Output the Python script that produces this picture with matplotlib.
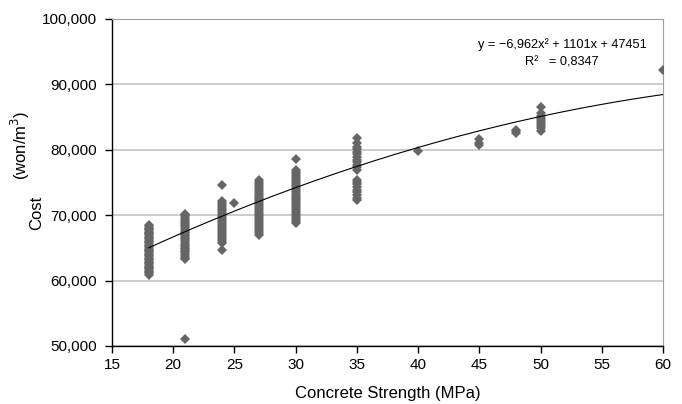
import numpy as np
import matplotlib
matplotlib.use("Agg")
import matplotlib.pyplot as plt

plt.rcParams['font.family'] = ['Liberation Sans', 'DejaVu Sans']

# cost values (won/m3), grouped by concrete strength
cost_18 = [60900, 61100, 61300, 61500, 61700, 61900, 62100, 62300, 62500, 62700,
           62900, 63100, 63300, 63500, 63700, 63900, 64100, 64300, 64500, 64700,
           64900, 65100, 65300, 65500, 65700, 65900, 66100, 66300, 66500, 66700,
           66900, 67100, 67300, 67500, 67700, 67900, 68100, 68300, 68500]
cost_21 = [51000, 63300, 63500, 63800, 64000, 64300, 64500, 64800, 65000, 65300,
           65500, 65800, 66000, 66300, 66500, 66800, 67000, 67300, 67500, 67800,
           68000, 68300, 68500, 68800, 69000, 69300, 69500, 69800, 70000, 70200]
cost_24 = [64700, 65800, 66100, 66400, 66700, 67000, 67300, 67600, 67900, 68200,
           68500, 68800, 69100, 69400, 69700, 70000, 70300, 70600, 70900, 71200,
           71500, 71800, 72100, 74600]
cost_25 = [71900]
cost_27 = [67000, 67300, 67600, 67900, 68200, 68500, 68800, 69100, 69400, 69700,
           70000, 70300, 70600, 70900, 71200, 71500, 71800, 72100, 72400, 72700,
           73000, 73300, 73600, 73900, 74200, 74500, 74800, 75100, 75400]
cost_30 = [68800, 69100, 69400, 69700, 70000, 70300, 70600, 70900, 71200, 71500,
           71800, 72100, 72400, 72700, 73000, 73300, 73600, 73900, 74200, 74500,
           74800, 75100, 75400, 75700, 76000, 76300, 76600, 76900, 78550]
cost_35 = [72300, 72700, 73100, 73500, 73900, 74300, 74700, 75000, 75400,
           76900, 77300, 77700, 78100, 78500, 78900, 79300, 79700, 80100, 80500,
           81000, 81800]
cost_40 = [79850]
cost_45 = [80700, 81100, 81600]
cost_48 = [82500, 82800, 83100]
cost_50 = [82900, 83300, 83600, 83900, 84300, 84600, 84900, 85200, 85600, 86600]
cost_60 = [92200]

groups = {18: cost_18, 21: cost_21, 24: cost_24, 25: cost_25, 27: cost_27,
          30: cost_30, 35: cost_35, 40: cost_40, 45: cost_45, 48: cost_48,
          50: cost_50, 60: cost_60}

# trendline coefficients as printed on the chart
coef_a, coef_b, coef_c = -6.962, 1101, 47451

fig = plt.figure(figsize=(6.82, 4.04), dpi=100)
ax = fig.add_axes([0.1642, 0.1436, 0.8079, 0.8094])

for strength, costs in groups.items():
    ax.plot([strength] * len(costs), costs, linestyle="none", marker="D",
            markersize=5.0, color="#666666", markeredgewidth=0, zorder=3)

xs = np.linspace(18, 60, 200)
ax.plot(xs, coef_a * xs ** 2 + coef_b * xs + coef_c, color="black", lw=0.8, zorder=4)

ax.set_xlim(15, 60)
ax.set_ylim(50000, 100000)
ax.set_xticks(range(15, 61, 5))
ax.set_yticks(range(50000, 100001, 10000))
ax.yaxis.set_major_formatter(matplotlib.ticker.FuncFormatter(lambda v, p: f"{int(v):,}"))
ax.yaxis.grid(True, color="#c4c4c4", lw=1.2)
ax.set_axisbelow(True)

for side in ["top", "right"]:
    ax.spines[side].set_color("#a0a0a0")
for side in ["left", "bottom"]:
    ax.spines[side].set_color("black")
    ax.spines[side].set_linewidth(1.0)

ax.tick_params(direction="out", length=5, width=1, labelsize=11, colors="black")
ax.tick_params(axis="y", pad=6)
ax.tick_params(axis="x", pad=4)

ax.set_xlabel("Concrete Strength (MPa)", fontsize=12, labelpad=10)
fig.text(0.053, 0.473, "Cost", rotation=90, fontsize=12, ha="center", va="center")
fig.text(0.030, 0.64, "(won/m$^3$)", rotation=90, fontsize=12, ha="center", va="center")

ax.text(0.817, 0.922, "y = \u22126,962x\u00b2 + 1101x + 47451", transform=ax.transAxes,
        fontsize=9.2, ha="center", va="center")
ax.text(0.817, 0.867, "R\u00b2   = 0,8347", transform=ax.transAxes,
        fontsize=9.2, ha="center", va="center")

fig.savefig("out.png", dpi=100)
